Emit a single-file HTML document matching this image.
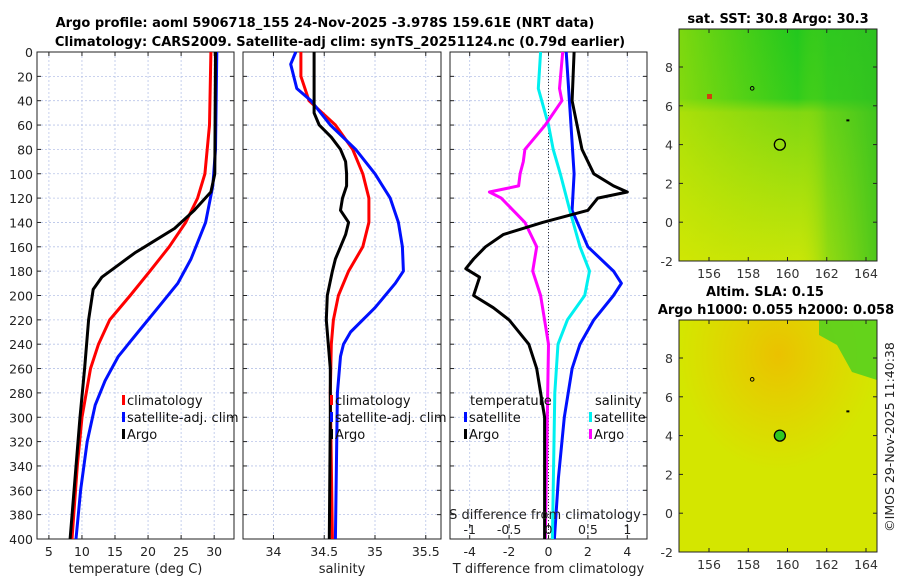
<!DOCTYPE html>
<html><head><meta charset="utf-8"><style>
body{margin:0;background:#fff;}
svg{font-family:"DejaVu Sans","Liberation Sans",sans-serif;}
</style></head><body>
<svg id="c" width="900" height="580" viewBox="0 0 900 580" xmlns="http://www.w3.org/2000/svg">
<defs>
<linearGradient id="sstv" x1="0" y1="0" x2="0" y2="1">
<stop offset="0" stop-color="#22c81e"/><stop offset="0.3" stop-color="#30cc1c"/><stop offset="0.36" stop-color="#80d812"/><stop offset="0.7" stop-color="#a8e00c"/><stop offset="1" stop-color="#c8e608"/></linearGradient>
<linearGradient id="ssth" x1="0" y1="0" x2="1" y2="0">
<stop offset="0" stop-color="#d8e800" stop-opacity="0.5"/><stop offset="0.6" stop-color="#c0e000" stop-opacity="0"/><stop offset="0.75" stop-color="#40c820" stop-opacity="0.4"/><stop offset="1" stop-color="#30c020" stop-opacity="0.8"/></linearGradient>
<radialGradient id="slab" cx="0.5" cy="0.15" r="0.5"><stop offset="0" stop-color="#f0b800" stop-opacity="0.8"/><stop offset="1" stop-color="#f0c000" stop-opacity="0"/></radialGradient>
</defs>
<g id="g"></g>
</svg>
<script>
// ---- data (depth in m) ----
const tClimD=[0,60,100,120,140,160,180,200,220,240,260,300,340,400];
const tClimV=[29.5,29.3,28.6,27.5,25.7,23.2,20.3,17.3,14.2,12.5,11.3,10,9.3,8.5];
const tSatD=[0,80,110,140,170,190,210,230,250,270,290,320,360,400];
const tSatV=[30.4,30.2,29.8,28.7,26.5,24.5,21.5,18.5,15.5,13.5,12,10.8,9.8,9.1];
const tArgoD=[0,100,115,130,145,155,160,165,175,185,195,220,260,300,400];
const tArgoV=[30.2,30.1,29.5,27,24,21,19.5,18,15.5,13,11.7,11,10.4,9.7,8.2];
const sClimD=[0,20,40,60,80,100,120,140,160,180,200,220,240,280,400];
const sClimV=[34.27,34.27,34.35,34.61,34.78,34.88,34.94,34.94,34.88,34.74,34.64,34.59,34.57,34.56,34.58];
const sSatD=[0,10,30,40,60,80,100,120,140,160,180,190,210,230,240,250,280,400];
const sSatV=[34.22,34.17,34.23,34.37,34.56,34.81,35.0,35.15,35.23,35.27,35.28,35.2,35.0,34.76,34.69,34.66,34.63,34.61];
const sArgoD=[0,50,60,70,80,90,100,110,120,130,140,150,160,170,180,200,220,260,300,400];
const sArgoV=[34.4,34.4,34.45,34.57,34.66,34.71,34.72,34.72,34.68,34.66,34.74,34.71,34.66,34.61,34.58,34.53,34.52,34.56,34.56,34.55];
const dTSatD=[0,50,100,130,160,180,190,200,220,240,260,300,350,400];
const dTSatV=[0.9,1.1,1.3,1.2,2.0,3.3,3.7,3.3,2.3,1.6,1.2,0.8,0.5,0.3];
const dTArgoD=[0,40,80,100,110,115,120,130,140,150,160,170,178,185,200,210,220,240,260,300,400];
const dTArgoV=[1.3,1.2,1.7,2.3,3.3,4.0,2.5,2.0,-0.3,-2.3,-3.2,-3.8,-4.2,-3.5,-3.8,-2.8,-2.0,-1.0,-0.6,-0.2,-0.2];
const dSSatD=[0,30,60,80,100,130,160,180,200,220,240,280,400];
const dSSatV=[-0.1,-0.13,0,0.06,0.15,0.27,0.4,0.52,0.46,0.24,0.12,0.08,0.05];
const dSArgoD=[0,30,40,60,80,90,100,110,115,120,140,160,180,200,240,400];
const dSArgoV=[0.18,0.14,0.17,-0.04,-0.3,-0.32,-0.36,-0.38,-0.75,-0.6,-0.3,-0.15,-0.2,-0.1,0,-0.04];
const depthTicks=[0,20,40,60,80,100,120,140,160,180,200,220,240,260,280,300,320,340,360,380,400];
const tTicks=[5,10,15,20,25,30];
const sTicks=[34,34.5,35,35.5];
const sTickLabels=['34','34.5','35','35.5'];
const dTTicks=[-4,-2,0,2,4];
const dSTicks=[-1,-0.5,0,0.5,1];
const dSTickLabels=['-1','-0.5','0','0.5','1'];
const lonTicks=[156,158,160,162,164];
const latTicks=[-2,0,2,4,6,8];

const NS='http://www.w3.org/2000/svg';
const G=document.getElementById('g');
function el(tag,at,txt){const e=document.createElementNS(NS,tag);for(const k in at)e.setAttribute(k,at[k]);if(txt!=null)e.textContent=txt;G.appendChild(e);return e;}
const Y0=52,Y1=539;
const yD=d=>Y0+d*(Y1-Y0)/400;
const panels=[{x0:37,x1:234,lo:3.2,hi:33},{x0:243,x1:441,lo:33.7,hi:35.65},{x0:450,x1:647,lo:-5,hi:5}];
function sx(p,v){return p.x0+(v-p.lo)*(p.x1-p.x0)/(p.hi-p.lo);}
const dsP={x0:450,x1:647,lo:-1.25,hi:1.25};

let t=el('text',{x:325,y:27,'text-anchor':'middle','font-size':'13','font-weight':'bold'},'Argo profile: aoml 5906718_155 24-Nov-2025 -3.978S 159.61E (NRT data)');

t=el('text',{x:340,y:46,'text-anchor':'middle','font-size':'13','font-weight':'bold'},'Climatology: CARS2009. Satellite-adj clim: synTS_20251124.nc (0.79d earlier)');


function frame(p,name,xt,xl,xlabel,ylab){
  depthTicks.forEach(d=>{const l=el('line',{x1:p.x0,x2:p.x1,y1:yD(d),y2:yD(d),stroke:'#b8c4e8','stroke-width':0.8,'stroke-dasharray':'2,2'});
    
    el('line',{x1:p.x0,x2:p.x0+4,y1:yD(d),y2:yD(d),stroke:'#222'});el('line',{x1:p.x1-4,x2:p.x1,y1:yD(d),y2:yD(d),stroke:'#222'});
    if(ylab){const tx=el('text',{x:p.x0-4,y:yD(d)+5,'text-anchor':'end','font-size':12.5,fill:'#222'},String(d));
      }});
  xt.forEach((v,i)=>{const x=sx(p,v);const l=el('line',{x1:x,x2:x,y1:Y0,y2:Y1,stroke:'#b8c4e8','stroke-width':0.8,'stroke-dasharray':'2,2'});
    
    el('line',{x1:x,x2:x,y1:Y1-4,y2:Y1,stroke:'#222'});el('line',{x1:x,x2:x,y1:Y0,y2:Y0+4,stroke:'#222'});
    const tx=el('text',{x:x,y:556,'text-anchor':'middle','font-size':12.5,fill:'#222'},xl[i]);
    });
  const r=el('rect',{x:p.x0,y:Y0,width:p.x1-p.x0,height:Y1-Y0,fill:'none',stroke:'#222','stroke-width':1});
  
  const xl2=el('text',{x:(p.x0+p.x1)/2,y:573,'text-anchor':'middle','font-size':13,fill:'#222'},xlabel);
  
}
frame(panels[0],'temperature-panel',tTicks,tTicks.map(String),'temperature (deg C)',true);
frame(panels[1],'salinity-panel',sTicks,sTickLabels,'salinity',false);
frame(panels[2],'difference-panel',dTTicks,dTTicks.map(String),'T difference from climatology',false);

function line(p,D,V,color,name,w){const pts=D.map((d,i)=>sx(p,V[i]).toFixed(1)+','+yD(d).toFixed(1)).join(' ');
  const l=el('polyline',{points:pts,fill:'none',stroke:color,'stroke-width':w||3,'stroke-linejoin':'round'});
  }
el('line',{x1:sx(panels[2],0),x2:sx(panels[2],0),y1:Y0,y2:Y1,stroke:'#333','stroke-dasharray':'1,2'});

line(panels[0],tClimD,tClimV,'#ff0000','temp-climatology-line');
line(panels[0],tSatD,tSatV,'#0010ff','temp-satellite-line');
line(panels[0],tArgoD,tArgoV,'#000','temp-argo-line');
line(panels[1],sClimD,sClimV,'#ff0000','sal-climatology-line');
line(panels[1],sSatD,sSatV,'#0010ff','sal-satellite-line');
line(panels[1],sArgoD,sArgoV,'#000','sal-argo-line');
line(panels[2],dTSatD,dTSatV,'#0010ff','tdiff-satellite-line');
line(dsP,dSSatD,dSSatV,'#00f0f0','sdiff-satellite-line');
line(dsP,dSArgoD,dSArgoV,'#ff00ff','sdiff-argo-line');
line(panels[2],dTArgoD,dTArgoV,'#000','tdiff-argo-line');

el('text',{x:545,y:519,'text-anchor':'middle','font-size':13,fill:'#222'},'S difference from climatology');
dSTicks.forEach((v,i)=>{const x=sx(dsP,v);el('line',{x1:x,x2:x,y1:524,y2:528,stroke:'#222'});
  const tx=el('text',{x:x,y:534,'text-anchor':'middle','font-size':12.5,fill:'#222'},dSTickLabels[i]);
  });

function leg(x,y,c,txt,name){el('rect',{x:x,y:y-10,width:3,height:10,fill:c});
  const tx=el('text',{x:x+5,y:y,'font-size':13,fill:'#111'},txt);}
leg(122,405,'#ff0000','climatology','legend-climatology');
leg(122,422,'#0010ff','satellite-adj. clim','legend-satellite');
leg(122,439,'#000','Argo','legend-argo');
leg(330,405,'#ff0000','climatology','legend-climatology-2');
leg(330,422,'#0010ff','satellite-adj. clim','legend-satellite-2');
leg(330,439,'#000','Argo','legend-argo-2');
el('text',{x:470,y:405,'font-size':13,fill:'#111'},'temperature');
el('text',{x:595,y:405,'font-size':13,fill:'#111'},'salinity');
leg(464,422,'#0010ff','satellite','legend-t-satellite');
leg(464,439,'#000','Argo','legend-t-argo');
leg(589,422,'#00f0f0','satellite','legend-s-satellite');
leg(589,439,'#ff00ff','Argo','legend-s-argo');

const MX0=679,MX1=877;
const lonX=l=>709+(l-156)*(866-709)/8;
function map(y0,y1){
  const latY=a=>{const y8=y0+(y1-y0)*38/232;const ym2=y1;return ym2-(a+2)*(ym2-y8)/10;};
  return latY;}
function mapAxes(y0,y1,latY,name){
  const r=el('rect',{x:MX0,y:y0,width:MX1-MX0,height:y1-y0,fill:'none',stroke:'#222'});
  
  lonTicks.forEach(l=>{const x=lonX(l);el('line',{x1:x,x2:x,y1:y1-4,y2:y1,stroke:'#222'});el('line',{x1:x,x2:x,y1:y0,y2:y0+4,stroke:'#222'});
    const tx=el('text',{x:x,y:y1+17,'text-anchor':'middle','font-size':12.5,fill:'#333'},String(l));});
  latTicks.forEach(a=>{const y=latY(a);el('line',{x1:MX0,x2:MX0+4,y1:y,y2:y,stroke:'#222'});el('line',{x1:MX1-4,x2:MX1,y1:y,y2:y,stroke:'#222'});
    const tx=el('text',{x:MX0-6,y:y+5,'text-anchor':'end','font-size':12.5,fill:'#333'},String(a));});
}
let ly=map(29,261);
let m=el('rect',{x:MX0,y:29,width:MX1-MX0,height:232,fill:'url(#sstv)'});
el('rect',{x:MX0,y:29,width:MX1-MX0,height:232,fill:'url(#ssth)'});
el('rect',{x:707,y:94,width:5,height:5,fill:'#d04010'});
el('circle',{cx:lonX(159.61),cy:ly(4),r:5.5,fill:'none',stroke:'#000','stroke-width':1.3});
el('circle',{cx:lonX(158.2),cy:ly(6.9),r:1.8,fill:'none',stroke:'#000'});
el('rect',{x:lonX(163),y:ly(5.3),width:3,height:2,fill:'#000'});
mapAxes(29,261,ly,'sst-map');
el('text',{x:778,y:23,'text-anchor':'middle','font-size':13,'font-weight':'bold'},'sat. SST: 30.8 Argo: 30.3');
ly=map(320,552);
m=el('rect',{x:MX0,y:320,width:MX1-MX0,height:232,fill:'#d4e600'});
el('rect',{x:MX0,y:320,width:MX1-MX0,height:232,fill:'url(#slab)'});
el('path',{d:`M${MX0+140},320 L${MX1},320 L${MX1},380 L${MX1-25},372 L${MX1-40},345 L${MX0+140},335 Z`,fill:'#50d020',opacity:0.85});
el('circle',{cx:lonX(159.61),cy:ly(4),r:5.5,fill:'#30c820',stroke:'#000','stroke-width':1.3});
el('circle',{cx:lonX(158.2),cy:ly(6.9),r:1.8,fill:'none',stroke:'#000'});
el('rect',{x:lonX(163),y:ly(5.3),width:3,height:2,fill:'#000'});
mapAxes(320,552,ly,'sla-map');
el('text',{x:765,y:296,'text-anchor':'middle','font-size':13,'font-weight':'bold'},'Altim. SLA: 0.15');
el('text',{x:776,y:314,'text-anchor':'middle','font-size':13,'font-weight':'bold'},'Argo h1000: 0.055 h2000: 0.058');
const cr=el('text',{x:0,y:0,'text-anchor':'middle','font-size':12.5,fill:'#222',transform:'translate(894,437) rotate(-90)'},'©IMOS 29-Nov-2025 11:40:38');

</script>
</body></html>
